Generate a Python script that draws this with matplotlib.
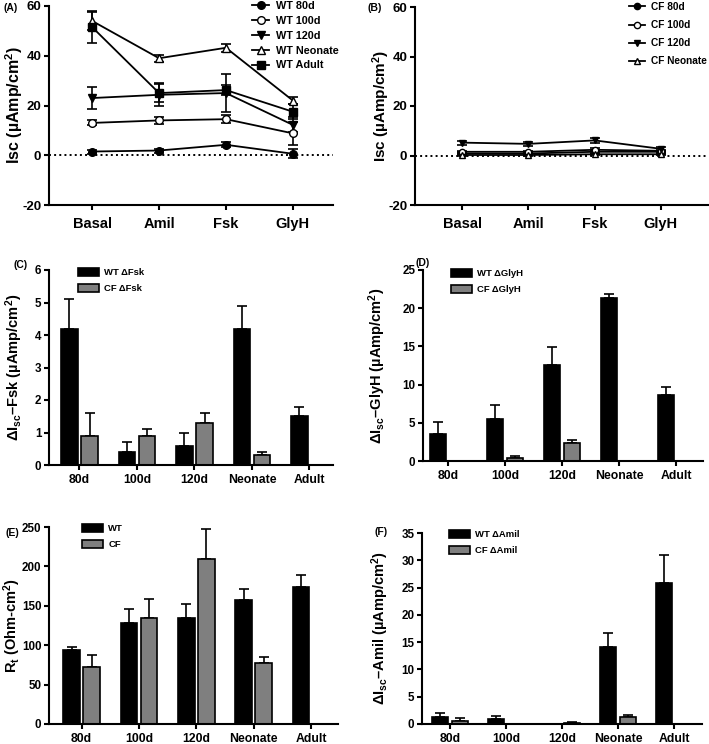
import matplotlib
matplotlib.use('Agg')
import matplotlib.pyplot as plt
from matplotlib.lines import Line2D
from matplotlib.patches import Patch
import numpy as np

# ---------------- data ----------------
steps = ['Basal', 'Amil', 'Fsk', 'GlyH']
groups = ['80d', '100d', '120d', 'Neonate', 'Adult']

# (A) WT Isc
wt_80d = [1.5, 1.9, 4.2, 0.6]
wt_80d_err = [0.8, 0.8, 1.0, 1.8]
wt_100d = [13.0, 14.0, 14.5, 8.8]
wt_100d_err = [1.0, 1.5, 1.7, 4.5]
wt_120d = [23.0, 24.3, 25.0, 12.2]
wt_120d_err = [4.5, 4.7, 7.5, 3.0]
wt_neo = [54.0, 39.0, 43.2, 22.0]
wt_neo_err = [3.5, 1.5, 1.7, 1.5]
wt_adult = [51.5, 25.0, 26.2, 17.5]
wt_adult_err = [6.5, 3.5, 2.0, 3.0]

# (B) CF Isc
cf_80d = [0.8, 0.8, 1.5, 1.5]
cf_80d_err = [0.5, 0.5, 0.5, 0.5]
cf_100d = [1.5, 1.5, 2.3, 1.9]
cf_100d_err = [0.5, 0.5, 0.6, 0.5]
cf_120d = [5.2, 4.7, 6.1, 2.7]
cf_120d_err = [0.8, 0.8, 1.0, 0.8]
cf_neo = [0.2, 0.2, 0.5, 0.5]
cf_neo_err = [0.3, 0.3, 0.3, 0.3]

nan = np.nan
# (C) delta Fsk
wt_dfsk = [4.2, 0.4, 0.6, 4.2, 1.5]
wt_dfsk_err = [0.9, 0.3, 0.4, 0.7, 0.3]
cf_dfsk = [0.9, 0.9, 1.3, 0.3, nan]
cf_dfsk_err = [0.7, 0.2, 0.3, 0.1, nan]
# (D) delta GlyH
wt_dgly = [3.5, 5.5, 12.6, 21.4, 8.7]
wt_dgly_err = [1.6, 1.8, 2.3, 0.4, 1.0]
cf_dgly = [nan, 0.4, 2.3, nan, nan]
cf_dgly_err = [nan, 0.2, 0.4, nan, nan]
# (E) Rt
wt_rt = [93.5, 128.0, 134.0, 157.0, 174.0]
wt_rt_err = [3.8, 18.0, 18.0, 14.5, 15.5]
cf_rt = [72.0, 134.0, 210.0, 77.0, nan]
cf_rt_err = [16.0, 24.5, 37.5, 7.5, nan]
# (F) delta Amil
wt_damil = [1.35, 0.9, nan, 14.1, 25.8]
wt_damil_err = [0.75, 0.5, nan, 2.6, 5.1]
cf_damil = [0.5, nan, 0.2, 1.25, nan]
cf_damil_err = [0.55, nan, 0.2, 0.4, nan]

# ---------------- style ----------------
plt.rcParams.update({
    'font.family': 'Liberation Sans',
    'font.weight': 'bold',
    'axes.labelweight': 'bold',
    'axes.unicode_minus': False,
    'mathtext.fontset': 'custom',
    'mathtext.rm': 'Liberation Sans:bold',
    'mathtext.it': 'Liberation Sans:bold',
    'mathtext.bf': 'Liberation Sans:bold',
    'axes.linewidth': 1.5,
    'xtick.major.width': 1.5,
    'ytick.major.width': 1.5,
    'xtick.major.size': 3.5,
    'ytick.major.size': 3.5,
})

W, H = 709, 744
fig = plt.figure(figsize=(W / 100, H / 100), dpi=100)


def px_axes(l, t, r, b):
    return fig.add_axes([l / W, 1 - b / H, (r - l) / W, (b - t) / H])


def clean(ax):
    ax.spines['top'].set_visible(False)
    ax.spines['right'].set_visible(False)


GRAY = '#7f7f7f'


def line_panel(ax, series, labels, markers, faces, ms, lw, xl, leg_xy, leg_sp, leg_fs):
    x = np.arange(len(steps))
    handles = []
    for (y, e), lab, m, fc in zip(series, labels, markers, faces):
        ax.errorbar(x, y, yerr=e, color='black', marker=m, mfc=fc, mec='black',
                    ms=ms, lw=lw, elinewidth=1.2, capsize=3.5, capthick=1.2,
                    zorder=3)
        handles.append(Line2D([], [], color='black', marker=m, mfc=fc, mec='black',
                              ms=ms, lw=lw))
    ax.axhline(0, color='black', ls=':', lw=1.4, zorder=1)
    ax.set_xlim(*xl)
    ax.set_ylim(-20, 60)
    ax.set_yticks([-20, 0, 20, 40, 60])
    ax.set_xticks(x)
    ax.set_xticklabels(steps, fontsize=10.5, fontweight='bold')
    ax.tick_params(axis='y', labelsize=9.5, pad=2)
    ax.tick_params(axis='x', pad=5)
    clean(ax)
    ax.legend(handles, labels, loc='upper left',
              bbox_to_anchor=(leg_xy[0] / W, 1 - leg_xy[1] / H),
              bbox_transform=fig.transFigure, frameon=False, fontsize=leg_fs,
              handlelength=1.6, handletextpad=0.6, labelspacing=leg_sp,
              borderpad=0, borderaxespad=0)


def bar_panel(ax, wt, wte, cf, cfe, ylim, yticks, xl, labels, leg_xy):
    x = np.arange(len(groups))
    off, wd = 0.175, 0.29
    ax.bar(x - off, wt, wd, color='black', edgecolor='black', lw=1.2, zorder=2)
    ax.bar(x + off, cf, wd, color=GRAY, edgecolor='black', lw=1.2, zorder=2)
    z = np.zeros(len(groups))
    ax.errorbar(x - off, wt, yerr=[z, wte], fmt='none', ecolor='black',
                elinewidth=1.2, capsize=3.5, capthick=1.2, zorder=1)
    ax.errorbar(x + off, cf, yerr=[z, cfe], fmt='none', ecolor='black',
                elinewidth=1.2, capsize=3.5, capthick=1.2, zorder=1)
    ax.set_xlim(*xl)
    ax.set_ylim(*ylim)
    ax.set_yticks(yticks)
    ax.set_xticks(x)
    ax.set_xticklabels(groups, fontsize=8.8, fontweight='bold')
    ax.tick_params(axis='y', labelsize=8.4, pad=2)
    ax.tick_params(axis='x', pad=3)
    clean(ax)
    h = [Patch(facecolor='black', edgecolor='black', lw=1.2),
         Patch(facecolor=GRAY, edgecolor='black', lw=1.2)]
    ax.legend(h, labels, loc='upper left',
              bbox_to_anchor=(leg_xy[0] / W, 1 - leg_xy[1] / H),
              bbox_transform=fig.transFigure, frameon=False, fontsize=6.8,
              handlelength=2.2, handleheight=0.9, handletextpad=0.6,
              labelspacing=0.75, borderpad=0, borderaxespad=0)


# (A)
axA = px_axes(49, 6, 333, 205)
line_panel(axA,
           [(wt_80d, wt_80d_err), (wt_100d, wt_100d_err), (wt_120d, wt_120d_err),
            (wt_neo, wt_neo_err), (wt_adult, wt_adult_err)],
           ['WT 80d', 'WT 100d', 'WT 120d', 'WT Neonate', 'WT Adult'],
           ['o', 'o', 'v', '^', 's'], ['black', 'white', 'black', 'white', 'black'],
           5.5, 1.3, (-0.645, 3.6), (252, 1), 0.45, 7.8)

# (B)
axB = px_axes(415, 7, 708, 205)
line_panel(axB,
           [(cf_80d, cf_80d_err), (cf_100d, cf_100d_err), (cf_120d, cf_120d_err),
            (cf_neo, cf_neo_err)],
           ['CF 80d', 'CF 100d', 'CF 120d', 'CF Neonate'],
           ['o', 'o', 'v', '^'], ['black', 'white', 'black', 'white'],
           4.5, 1.3, (-0.71, 3.71), (629, 2), 0.8, 7.3)

# (C)
axC = px_axes(49, 270, 333, 465)
bar_panel(axC, wt_dfsk, wt_dfsk_err, cf_dfsk, cf_dfsk_err, (0, 6), range(0, 7),
          (-0.53, 4.41), ['WT ΔFsk', 'CF ΔFsk'], (78, 268))

# (D)
axD = px_axes(423, 270, 703, 461)
bar_panel(axD, wt_dgly, wt_dgly_err, cf_dgly, cf_dgly_err, (0, 25), range(0, 26, 5),
          (-0.44, 4.47), ['WT ΔGlyH', 'CF ΔGlyH'], (451, 269))

# (E)
axE = px_axes(49, 527, 338, 724)
bar_panel(axE, wt_rt, wt_rt_err, cf_rt, cf_rt_err, (0, 250), range(0, 251, 50),
          (-0.57, 4.47), ['WT', 'CF'], (82, 524))

# (F)
axF = px_axes(422, 533, 702, 724)
bar_panel(axF, wt_damil, wt_damil_err, cf_damil, cf_damil_err, (0, 35), range(0, 36, 5),
          (-0.5, 4.5), ['WT ΔAmil', 'CF ΔAmil'], (449, 530))

# y labels
ylabs = [
    (14, (6 + 205) / 2, 'Isc (µAmp/cm$^2$)', 11.5),
    (381, (7 + 205) / 2, 'Isc (µAmp/cm$^2$)', 11),
    (14, (270 + 465) / 2, 'ΔI$_{sc}$–Fsk (µAmp/cm$^2$)', 10.5),
    (377, (270 + 461) / 2, 'ΔI$_{sc}$–GlyH (µAmp/cm$^2$)', 10.5),
    (12, (527 + 724) / 2, 'R$_t$ (Ohm-cm$^2$)', 10.5),
    (380, (533 + 724) / 2, 'ΔI$_{sc}$–Amil (µAmp/cm$^2$)', 10.5),
]
for xp, yp, s, fs in ylabs:
    fig.text(xp / W, 1 - yp / H, s, rotation=90, ha='center', va='center',
             fontsize=fs, fontweight='bold')

# panel letters
letters = [(4, 8, '(A)'), (368, 8, '(B)'), (13, 265, '(C)'), (415, 263, '(D)'),
           (5, 533, '(E)'), (375, 532, '(F)')]
for xp, yp, s in letters:
    fig.text(xp / W, 1 - yp / H, s, ha='left', va='center', fontsize=7.5,
             fontweight='bold')

fig.savefig('out.png', dpi=100)
